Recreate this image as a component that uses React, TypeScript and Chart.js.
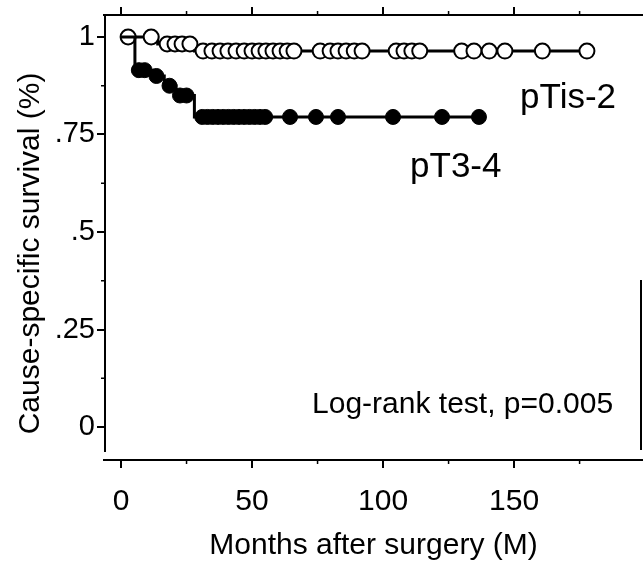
import { useEffect, useRef } from "react";
import { Chart, registerables } from "chart.js";

Chart.register(...registerables);

// Axis ticks
const xMajorTicks = [0, 50, 100, 150];
const xMinorTicks = [25, 75, 125, 175];
const yMajorTicks = [0, 0.25, 0.5, 0.75, 1];
const yTickLabels = ["0", ".25", ".5", ".75", "1"];
const yMinorTicks = [0.125, 0.375, 0.625, 0.875];

// pTis-2 : Kaplan-Meier steps (time, survival) and censored times
const tisStepTimes = [0, 14, 28, 177.8];
const tisStepSurv = [1, 0.982, 0.964, 0.964];
const tisCensorTimes = [
  2.7, 11.5, 17.6, 20.6, 23.3, 26.3, 31.3, 34.7, 37.8, 40.8, 43.9, 47, 50,
  52.7, 55.3, 58, 60.7, 63.4, 66, 76, 79.8, 82.8, 85.9, 89, 92, 105, 108, 111,
  114, 130, 134.7, 140.5, 146.5, 160.8, 177.8,
];

// pT3-4 : Kaplan-Meier steps (time, survival) and censored times
const t34StepTimes = [0, 5.3, 12, 16.5, 21, 28, 136.6];
const t34StepSurv = [1, 0.915, 0.9, 0.875, 0.85, 0.795, 0.795];
const t34CensorTimes = [
  6.8, 9, 13.5, 18.5, 22.5, 25, 31, 33, 35, 37, 39, 41, 43, 45, 47, 49, 51, 53,
  55, 64.5, 74.4, 82.8, 103.8, 122.5, 136.6,
];

const seriesNames = ["pTis-2", "pT3-4"];
const testText = "Log-rank test, p=0.005";
const xTitle = "Months after surgery (M)";
const yTitle = "Cause-specific survival (%)";

const FONT = "'Liberation Sans', Arial, Helvetica, sans-serif";

function survAt(times: number[], surv: number[], t: number) {
  let s = surv[0];
  for (let i = 0; i < times.length; i++) if (times[i] <= t) s = surv[i];
  return s;
}

const X_MIN = -6.5;
const X_MAX = 199.2;
const Y_MIN = -0.0846;
const Y_MAX = 1.0564;

const decorPlugin = {
  id: "decor",
  afterDraw(chart: any) {
    const { ctx, chartArea, scales } = chart;
    const x = scales.x;
    const y = scales.y;
    ctx.save();
    ctx.strokeStyle = "#000";
    ctx.lineWidth = 2;
    // left axis line (ends above the x axis)
    ctx.beginPath();
    ctx.moveTo(chartArea.left + 1, chartArea.top);
    ctx.lineTo(chartArea.left + 1, y.getPixelForValue(-0.064));
    ctx.stroke();
    // minor ticks
    ctx.lineWidth = 1.5;
    ctx.beginPath();
    xMinorTicks.forEach((v) => {
      const px = x.getPixelForValue(v);
      ctx.moveTo(px, chartArea.bottom);
      ctx.lineTo(px, chartArea.bottom + 4);
      ctx.moveTo(px, chartArea.top);
      ctx.lineTo(px, chartArea.top - 4);
    });
    yMinorTicks.forEach((v) => {
      const py = y.getPixelForValue(v);
      ctx.moveTo(chartArea.left + 1, py);
      ctx.lineTo(chartArea.left - 3, py);
    });
    ctx.stroke();
    // partial right border
    ctx.lineWidth = 2;
    ctx.beginPath();
    ctx.moveTo(chartArea.right - 2, y.getPixelForValue(0.377));
    ctx.lineTo(chartArea.right - 2, y.getPixelForValue(-0.059));
    ctx.stroke();
    // texts
    ctx.fillStyle = "#000";
    ctx.textAlign = "left";
    ctx.textBaseline = "alphabetic";
    ctx.font = `35px ${FONT}`;
    ctx.fillText(seriesNames[0], x.getPixelForValue(152.3), y.getPixelForValue(0.819));
    ctx.fillText(seriesNames[1], x.getPixelForValue(110.3), y.getPixelForValue(0.641));
    ctx.font = `30px ${FONT}`;
    ctx.fillText(testText, x.getPixelForValue(72.9), y.getPixelForValue(0.036));
    // y axis title
    ctx.save();
    ctx.translate(31, y.getPixelForValue(0.445));
    ctx.rotate(-Math.PI / 2);
    ctx.textAlign = "center";
    ctx.textBaseline = "middle";
    ctx.fillText(yTitle, 0, 0);
    ctx.restore();
    ctx.restore();
  },
};

export default function App() {
  const ref = useRef<HTMLCanvasElement>(null);

  useEffect(() => {
    if (!ref.current) return;
    const majorColor = (c: any) =>
      xMajorTicks.includes(c.tick?.value) ? "#000" : "rgba(0,0,0,0)";
    const noPad = (s: any) => {
      s.paddingLeft = 0;
      s.paddingRight = 0;
      s.paddingTop = 0;
      s.paddingBottom = 0;
    };
    const chart = new Chart(ref.current, {
      type: "scatter",
      data: {
        datasets: [
          {
            label: "pT3-4 censored",
            data: t34CensorTimes.map((t) => ({ x: t, y: survAt(t34StepTimes, t34StepSurv, t) })),
            showLine: false,
            pointRadius: 7.5,
            pointBackgroundColor: "#000",
            pointBorderColor: "#000",
            pointBorderWidth: 1,
          },
          {
            label: "pT3-4",
            data: t34StepTimes.map((t, i) => ({ x: t, y: t34StepSurv[i] })),
            showLine: true,
            stepped: "before",
            borderColor: "#000",
            borderWidth: 3,
            pointRadius: 0,
          },
          {
            label: "pTis-2 censored",
            data: tisCensorTimes.map((t) => ({ x: t, y: survAt(tisStepTimes, tisStepSurv, t) })),
            showLine: false,
            pointRadius: 7.5,
            pointBackgroundColor: "#fff",
            pointBorderColor: "#000",
            pointBorderWidth: 2,
          },
          {
            label: "pTis-2",
            data: tisStepTimes.map((t, i) => ({ x: t, y: tisStepSurv[i] })),
            showLine: true,
            stepped: "before",
            borderColor: "#000",
            borderWidth: 3,
            pointRadius: 0,
          },
        ],
      },
      options: {
        animation: false,
        responsive: false,
        maintainAspectRatio: false,
        layout: { padding: 0, autoPadding: false },
        plugins: { legend: { display: false }, tooltip: { enabled: false } },
        scales: {
          x: {
            type: "linear",
            position: "bottom",
            min: X_MIN,
            max: X_MAX,
            afterBuildTicks: (s: any) => {
              s.ticks = xMajorTicks.map((v) => ({ value: v }));
            },
            afterFit: (s: any) => {
              s.height = 561 - 460;
              noPad(s);
            },
            grid: { drawOnChartArea: false, drawTicks: true, tickLength: 8, color: majorColor, lineWidth: 2 },
            border: { display: true, color: "#000", width: 2 },
            ticks: { color: "#000", font: { family: FONT, size: 30 }, padding: 16, maxRotation: 0 },
            title: { display: true, text: xTitle, color: "#000", font: { family: FONT, size: 30 }, padding: { top: 0, bottom: -3 } },
          },
          x2: {
            type: "linear",
            position: "top",
            min: X_MIN,
            max: X_MAX,
            afterBuildTicks: (s: any) => {
              s.ticks = xMajorTicks.map((v) => ({ value: v }));
            },
            afterFit: (s: any) => {
              s.height = 15;
              noPad(s);
            },
            grid: { drawOnChartArea: false, drawTicks: true, tickLength: 8, color: majorColor, lineWidth: 2 },
            border: { display: true, color: "#000", width: 2 },
            ticks: { display: false },
          },
          y: {
            type: "linear",
            position: "left",
            min: Y_MIN,
            max: Y_MAX,
            afterBuildTicks: (s: any) => {
              s.ticks = yMajorTicks.map((v) => ({ value: v }));
            },
            afterFit: (s: any) => {
              s.width = 104;
              noPad(s);
            },
            grid: { drawOnChartArea: false, drawTicks: true, tickLength: 7, color: "#000", lineWidth: 2 },
            border: { display: false },
            ticks: {
              color: "#000",
              font: { family: FONT, size: 29 },
              padding: 2,
              callback: (v: any) => {
                const i = yMajorTicks.indexOf(v);
                return i >= 0 ? yTickLabels[i] : "";
              },
            },
            title: { display: false },
          },
        },
      },
      plugins: [decorPlugin],
    });
    return () => chart.destroy();
  }, []);

  return (
    <div style={{ position: "fixed", left: 0, top: 0, width: 643, height: 561, background: "#fff" }}>
      <canvas ref={ref} width={643} height={561} style={{ display: "block" }} />
    </div>
  );
}
